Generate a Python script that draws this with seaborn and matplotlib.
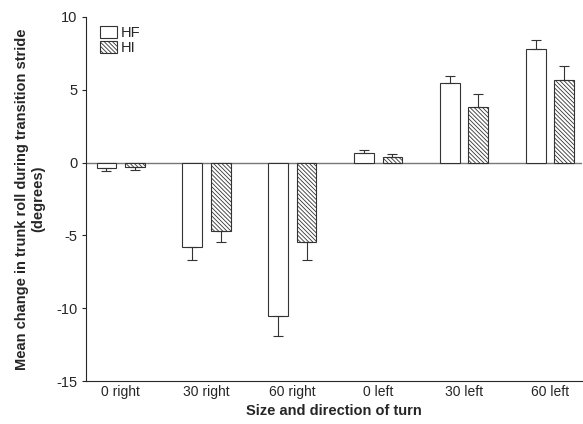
import numpy as np
import pandas as pd
import matplotlib
matplotlib.use("Agg")
import matplotlib.pyplot as plt
import seaborn as sns

turns = ["0 right", "30 right", "60 right", "0 left", "30 left", "60 left"]
groups = ["HF", "HI"]
hf_mean = [-0.4, -5.8, -10.5, 0.65, 5.5, 7.8]
hf_err = [0.2, 0.85, 1.4, 0.25, 0.45, 0.6]
hi_mean = [-0.3, -4.7, -5.45, 0.4, 3.8, 5.65]
hi_err = [0.2, 0.75, 1.25, 0.17, 0.9, 0.95]

df = pd.DataFrame({
    "turn": turns * 2,
    "group": ["HF"] * len(turns) + ["HI"] * len(turns),
    "roll": hf_mean + hi_mean,
    "err": hf_err + hi_err,
})

sns.set_style("ticks")
plt.rcParams["font.family"] = ["Liberation Sans", "DejaVu Sans"]
plt.rcParams["axes.unicode_minus"] = False
plt.rcParams["hatch.linewidth"] = 0.6
plt.rcParams["hatch.color"] = "#555555"

HATCH = "\\" * 8

fig = plt.figure(figsize=(5.83, 4.24), dpi=100)
ax = fig.add_axes([0.148, 0.101, 0.850, 0.859])

sns.barplot(data=df, x="turn", y="roll", hue="group", order=turns, hue_order=groups,
            palette=["white", "white"], edgecolor="#333333", linewidth=0.8,
            width=0.66, gap=0.3, errorbar=None, ax=ax)

# hatch the HI bars, add one-sided error bars
for bars, g in zip(ax.containers, groups):
    sub = df[df["group"] == g].set_index("turn").loc[turns]
    for bar, (val, e) in zip(bars, zip(sub["roll"], sub["err"])):
        if g == "HI":
            bar.set_hatch(HATCH)
        x = bar.get_x() + bar.get_width() / 2
        yerr = [[e], [0]] if val < 0 else [[0], [e]]
        ax.errorbar(x, val, yerr=yerr, fmt="none", ecolor="#333333",
                    elinewidth=0.8, capsize=3.5, capthick=0.8)

ax.axhline(0, color="#777777", lw=1.0, zorder=0)
ax.set_ylim(-15, 10)
ax.set_yticks([-15, -10, -5, 0, 5, 10])
ax.set_xlim(-0.4, 5.37)
ax.tick_params(axis="x", length=0, labelsize=10, pad=3)
ax.tick_params(axis="y", length=3, labelsize=10.5, width=0.8)
sns.despine(ax=ax)
ax.spines["left"].set_linewidth(0.8)
ax.spines["bottom"].set_linewidth(0.8)

ax.set_xlabel("Size and direction of turn", fontsize=10.5, fontweight="bold", labelpad=3)
ax.set_ylabel("Mean change in trunk roll during transition stride\n(degrees)",
              fontsize=10.5, fontweight="bold", labelpad=8)

leg = ax.legend(loc="upper left", bbox_to_anchor=(0.01, 1.0), frameon=False,
                fontsize=10.5, handlelength=1.2, handleheight=0.9,
                handletextpad=0.2, labelspacing=0.05, borderaxespad=0.2)
leg.legend_handles[1].set_hatch(HATCH)

fig.savefig("out.png", dpi=100)
